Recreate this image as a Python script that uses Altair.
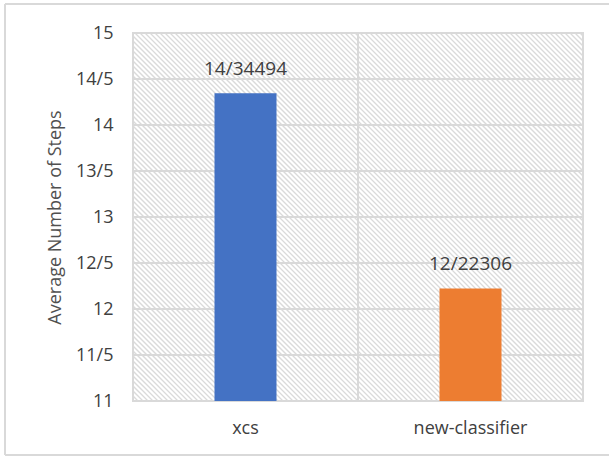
import altair as alt
import pandas as pd

# Average number of steps per method
categories = ["xcs", "new-classifier"]
avg_steps = [14.34494, 12.22306]
bar_colors = ["#4472C4", "#ED7D31"]
y_ticks = [11, 11.5, 12, 12.5, 13, 13.5, 14, 14.5, 15]

W, H = 450, 368
FONT = "Open Sans"
TEXT = "#404040"

bars_df = pd.DataFrame({"method": categories, "steps": avg_steps})
grid_df = pd.DataFrame({"tick": y_ticks[1:-1]})

x_band = alt.Scale(type="band", domain=categories, paddingInner=0, paddingOuter=0)
y_lin = alt.Scale(domain=[y_ticks[0], y_ticks[-1]], nice=False, zero=False)

x_axis = alt.Axis(
    title=None, domain=False, ticks=False, grid=False, labelAngle=0,
    labelFontSize=18, labelColor=TEXT, labelPadding=18, labelFont=FONT,
)
y_axis = alt.Axis(
    values=y_ticks,
    labelExpr="replace(format(datum.value, '~g'), '.', '/')",
    title="Average Number of Steps",
    titleFont=FONT, titleFontSize=18, titleFontWeight="normal", titleColor="#505050",
    titleX=-78, titleY=H / 2, titleAlign="center", titleBaseline="middle",
    domain=False, ticks=False, grid=False,
    labelFontSize=18, labelColor=TEXT, labelPadding=20, labelFont=FONT,
)

# diagonal hatching of the plot background
hatch = (
    alt.Chart(alt.sequence(-H, W + 5, 5, as_="s"))
    .transform_calculate(s2=f"datum.s + {H}", top=str(y_ticks[-1]), bottom=str(y_ticks[0]))
    .mark_rule(color="#dadada", strokeWidth=1.3, clip=True)
    .encode(
        x=alt.X("s:Q", scale=alt.Scale(domain=[0, W], nice=False, zero=False), axis=None),
        x2="s2:Q",
        y=alt.Y("top:Q", scale=y_lin, axis=y_axis),
        y2="bottom:Q",
    )
)

hgrid = alt.Chart(grid_df).mark_rule(color="#d9d9d9", strokeWidth=2).encode(
    y=alt.Y("tick:Q", scale=y_lin, axis=y_axis)
)

vgrid = alt.Chart(bars_df).mark_rule(color="#d9d9d9", strokeWidth=2).encode(
    x=alt.X("method:N", scale=x_band, sort=categories, bandPosition=0, axis=x_axis)
)

bars = alt.Chart(bars_df).mark_bar(size=62).encode(
    x=alt.X("method:N", scale=x_band, sort=categories, axis=x_axis),
    y=alt.Y("steps:Q", scale=y_lin, axis=y_axis),
    y2=alt.datum(y_ticks[0]),
    color=alt.Color("method:N", scale=alt.Scale(domain=categories, range=bar_colors), legend=None),
)

labels = (
    alt.Chart(bars_df)
    .transform_calculate(label="replace(toString(datum.steps), '.', '/')")
    .mark_text(dy=-18, baseline="alphabetic", fontSize=19, color=TEXT, font=FONT)
    .encode(
        x=alt.X("method:N", scale=x_band, sort=categories, axis=x_axis),
        y=alt.Y("steps:Q", scale=y_lin, axis=y_axis),
        text="label:N",
    )
)

# outer chart border: top, left and bottom edges
edge = alt.Chart(alt.Data(values=[{}])).mark_rule(color="#d9d9d9", strokeWidth=2, clip=False)
frame_top = edge.encode(x=alt.value(-128), x2=alt.value(W + 80), y=alt.value(-29))
frame_bottom = edge.encode(x=alt.value(-128), x2=alt.value(W + 80), y=alt.value(H + 54))
frame_left = edge.encode(x=alt.value(-128), y=alt.value(-29), y2=alt.value(H + 54))

inner = alt.layer(hgrid, vgrid, bars, labels)

chart = (
    alt.layer(hatch, inner, frame_top, frame_bottom, frame_left)
    .resolve_scale(x="independent")
    .properties(
        width=W, height=H, autosize="none",
        padding={"left": 133, "top": 33, "right": 26, "bottom": 56},
        background="white",
    )
    .configure_view(stroke="#d9d9d9", strokeWidth=2)
)

chart.save("out.html", embed_options={"renderer": "svg", "actions": False})
